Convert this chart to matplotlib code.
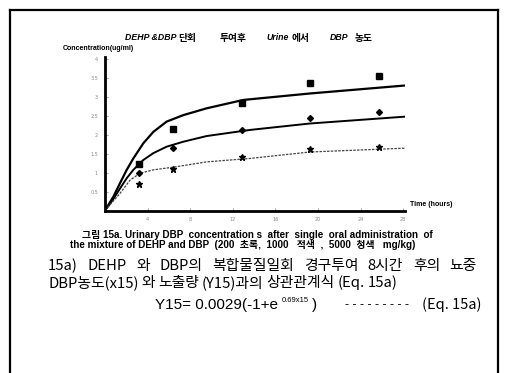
import matplotlib
matplotlib.use('Agg')
import matplotlib.pyplot as plt
from matplotlib.lines import Line2D

# sampling times (hours) and measured urinary DBP (ug/ml)
hours = [3.2, 6.4, 12.9, 19.25, 25.7]
dose_200 = [0.70, 1.09, 1.42, 1.61, 1.66]     # stars
dose_1000 = [0.98, 1.65, 2.12, 2.43, 2.60]    # diamonds
dose_5000 = [1.22, 2.14, 2.82, 3.35, 3.54]    # squares

# fitted curves
fit_5000_x = [0, 0.78, 1.41, 2.04, 2.66, 3.60, 4.54, 5.79, 7.35, 9.55, 12.99, 19.25, 28.17]
fit_5000_y = [0, 0.36, 0.72, 1.07, 1.37, 1.77, 2.07, 2.34, 2.51, 2.69, 2.91, 3.08, 3.29]
fit_1000_x = [0, 0.78, 1.41, 2.04, 2.66, 3.60, 4.54, 5.79, 7.35, 9.55, 13.6, 19.25, 28.17]
fit_1000_y = [0, 0.30, 0.58, 0.85, 1.07, 1.33, 1.51, 1.68, 1.81, 1.96, 2.12, 2.29, 2.47]
fit_200_x = [0, 0.78, 1.41, 2.35, 3.29, 4.54, 6.41, 9.55, 13.6, 19.25, 28.17]
fit_200_y = [0, 0.25, 0.45, 0.80, 0.98, 1.07, 1.14, 1.28, 1.37, 1.54, 1.64]

xticks = [4, 8, 12, 16, 20, 24, 28]
yticks = [0.5, 1, 1.5, 2, 2.5, 3, 3.5, 4]

W, H = 505, 373
fig = plt.figure(figsize=(W / 100, H / 100), dpi=100)
renderer = fig.canvas.get_renderer()

def fx(px):
    return px / W

def fy(py):
    return 1 - py / H

def width_px(t):
    return t.get_window_extent(renderer=renderer).width

# page frame
for (x0, y0, x1, y1) in [(10, 10, 498, 10), (10, 10, 10, 373), (498, 10, 498, 373)]:
    fig.add_artist(Line2D([fx(x0), fx(x1)], [fy(y0), fy(y1)], color='black', lw=1.6,
                          transform=fig.transFigure))

ax = fig.add_axes([fx(105), fy(210.5), fx(405) - fx(105), fy(57) - fy(210.5)])
ax.plot(fit_5000_x, fit_5000_y, color='black', lw=1.6)
ax.plot(fit_1000_x, fit_1000_y, color='black', lw=1.4)
ax.plot(fit_200_x, fit_200_y, color='#444444', lw=0.9, ls=(0, (2, 1)))
ax.plot(hours, dose_5000, 's', color='black', ms=4.5)
ax.plot(hours, dose_1000, 'D', color='black', ms=3)
ax.plot(hours, dose_200, '*', color='black', ms=4.5)

ax.set_xlim(0, 28.17)
ax.set_ylim(0, 4.04)
ax.set_xticks(xticks)
ax.set_yticks(yticks)
ax.set_xticklabels([str(t) for t in xticks])
ax.set_yticklabels([str(t) for t in yticks])
ax.tick_params(direction='in', length=2, width=0.6, colors='#999999', labelsize=3.5,
               labelcolor='#888888', pad=5)
for s in ['top', 'right']:
    ax.spines[s].set_visible(False)
for s in ['left', 'bottom']:
    ax.spines[s].set_linewidth(2)

lat = ['Liberation Sans', 'Noto Sans CJK KR']
kor = ['Noto Sans CJK KR', 'Liberation Sans']

# title pieces
title_parts = [(125, 'DEHP &DBP', True), (178, '단회', False), (220, '투여후', False),
               (266, 'Urine', True), (292, '에서', False), (330, 'DBP', True), (355, '농도', False)]
for px, s, it in title_parts:
    fig.text(fx(px), fy(38), s, fontsize=6.3 if it else 7, fontweight='bold',
             fontstyle='italic' if it else 'normal',
             family=lat if it else kor, ha='left', va='center')

fig.text(fx(63), fy(48), 'Concentration(ug/ml)', fontsize=5, fontweight='bold',
         family=lat, ha='left', va='center')
fig.text(fx(410), fy(205), 'Time (hours)', fontsize=5, fontweight='bold',
         family=lat, ha='left', va='center')

fig.text(fx(257), fy(235), '그림 15a. Urinary DBP  concentration s  after  single  oral administration  of',
         fontsize=7.1, fontweight='bold', family=lat, ha='center', va='center')
fig.text(fx(243), fy(245), 'the mixture of DEHP and DBP  (200  초록,  1000   적색  ,  5000  청색   mg/kg)',
         fontsize=7.1, fontweight='bold', family=lat, ha='center', va='center')

# paragraph lines, words spread evenly between the left and right ends seen in the scan
para = [(266, 48, 477, '15a) DEHP 와 DBP의 복합물질일회 경구투여 8시간 후의 뇨중'),
        (283, 48, 395, 'DBP농도(x15) 와 노출량 (Y15)과의 상관관계식 (Eq. 15a)')]
for py, x0, x1, line in para:
    words = [fig.text(0, fy(py), w, fontsize=10.7, family=kor, ha='left', va='center')
             for w in line.split(' ')]
    widths = [width_px(t) for t in words]
    gap = max((x1 - x0 - sum(widths)) / (len(words) - 1), 3)
    cur = x0
    for t, w in zip(words, widths):
        t.set_x(fx(cur))
        cur += w + gap

# equation
eq1 = fig.text(fx(155), fy(305), 'Y15= 0.0029(-1+e', fontsize=11, family=lat, ha='left', va='center')
cur = 155 + width_px(eq1) + 4
eq2 = fig.text(fx(cur), fy(301), '0.69x15', fontsize=5.5, family=lat, ha='left', va='center')
cur += width_px(eq2) + 3
fig.text(fx(cur), fy(305), ')', fontsize=11, family=lat, ha='left', va='center')
fig.text(fx(345), fy(305), '- - - - - - - - -', fontsize=9, family=lat, ha='left', va='center')
fig.text(fx(422), fy(305), '(Eq. 15a)', fontsize=10.5, family=kor, ha='left', va='center')

fig.savefig('out.png', dpi=100)
